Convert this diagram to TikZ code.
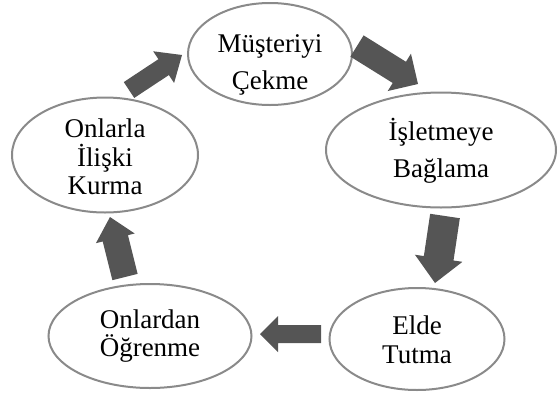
\documentclass[tikz,border=0pt]{standalone}
\usepackage{fontspec}
\setmainfont{Liberation Serif}
\usetikzlibrary{shapes.geometric,calc}

\definecolor{ovalline}{RGB}{138,138,138}
\definecolor{arrowfill}{RGB}{85,85,85}

\tikzset{
  oval/.style={ellipse, draw=ovalline, line width=2pt, fill=white, inner sep=0pt},
  txt/.style={align=center, font=\fontsize{27}{28.5}\selectfont, inner sep=0pt},
}

% Block arrow: #1 tail, #2 tip, #3 half shaft width, #4 half head width, #5 head length
\newcommand\blockarrow[5]{%
  \coordinate (ba-h) at ($(#2)!#5!(#1)$);
  \fill[arrowfill]
    ($(#1)!#3!90:(#2)$) -- ($(ba-h)!#3!90:(#2)$) -- ($(ba-h)!#4!90:(#2)$) --
    (#2) --
    ($(ba-h)!#4!-90:(#2)$) -- ($(ba-h)!#3!-90:(#2)$) -- ($(#1)!#3!-90:(#2)$) -- cycle;
}

\begin{document}
\begin{tikzpicture}[x=1pt,y=-1pt]
\useasboundingbox (0,0) rectangle (558,392);

% the five stages of the cycle
\node[oval, minimum width=164pt, minimum height=102pt] (attract) at (270,54) {};
\node[oval, minimum width=230pt, minimum height=115pt] (bind)    at (441,150) {};
\node[oval, minimum width=175pt, minimum height=102pt] (keep)    at (417,339) {};
\node[oval, minimum width=203pt, minimum height=104pt] (learn)   at (150,336) {};
\node[oval, minimum width=186pt, minimum height=115pt] (relate)  at (105,155) {};

\node[txt] (attractT) at ([yshift=-11pt]attract.center) {Müşteriyi\\[8.5pt]Çekme};
\node[txt] (bindT)    at ([yshift=-1pt]bind.center)     {İşletmeye\\[8.5pt]Bağlama};
\node[txt] (keepT)    at ([yshift=-1pt]keep.center)     {Elde\\Tutma};
\node[txt] (learnT)   at ([yshift=0pt]learn.center)     {Onlardan\\Öğrenme};
\node[txt] (relateT)  at ([yshift=-2pt]relate.center)   {Onlarla\\İlişki\\Kurma};

% arrow ends between the stages
\coordinate (a1t) at (129,90);  \coordinate (a1h) at (182,55);
\coordinate (a2t) at (357,46);  \coordinate (a2h) at (418,84);
\coordinate (a3t) at (445,216); \coordinate (a3h) at (435,283);
\coordinate (a4t) at (321,334); \coordinate (a4h) at (260,334);
\coordinate (a5t) at (125,277); \coordinate (a5h) at (110,217);

\blockarrow{a1t}{a1h}{9.5pt}{19pt}{22pt}
\blockarrow{a2t}{a2h}{12.5pt}{22pt}{22pt}
\blockarrow{a3t}{a3h}{15pt}{24pt}{25pt}
\blockarrow{a4t}{a4h}{9pt}{18pt}{18pt}
\blockarrow{a5t}{a5h}{13pt}{20pt}{22pt}
\end{tikzpicture}
\end{document}
